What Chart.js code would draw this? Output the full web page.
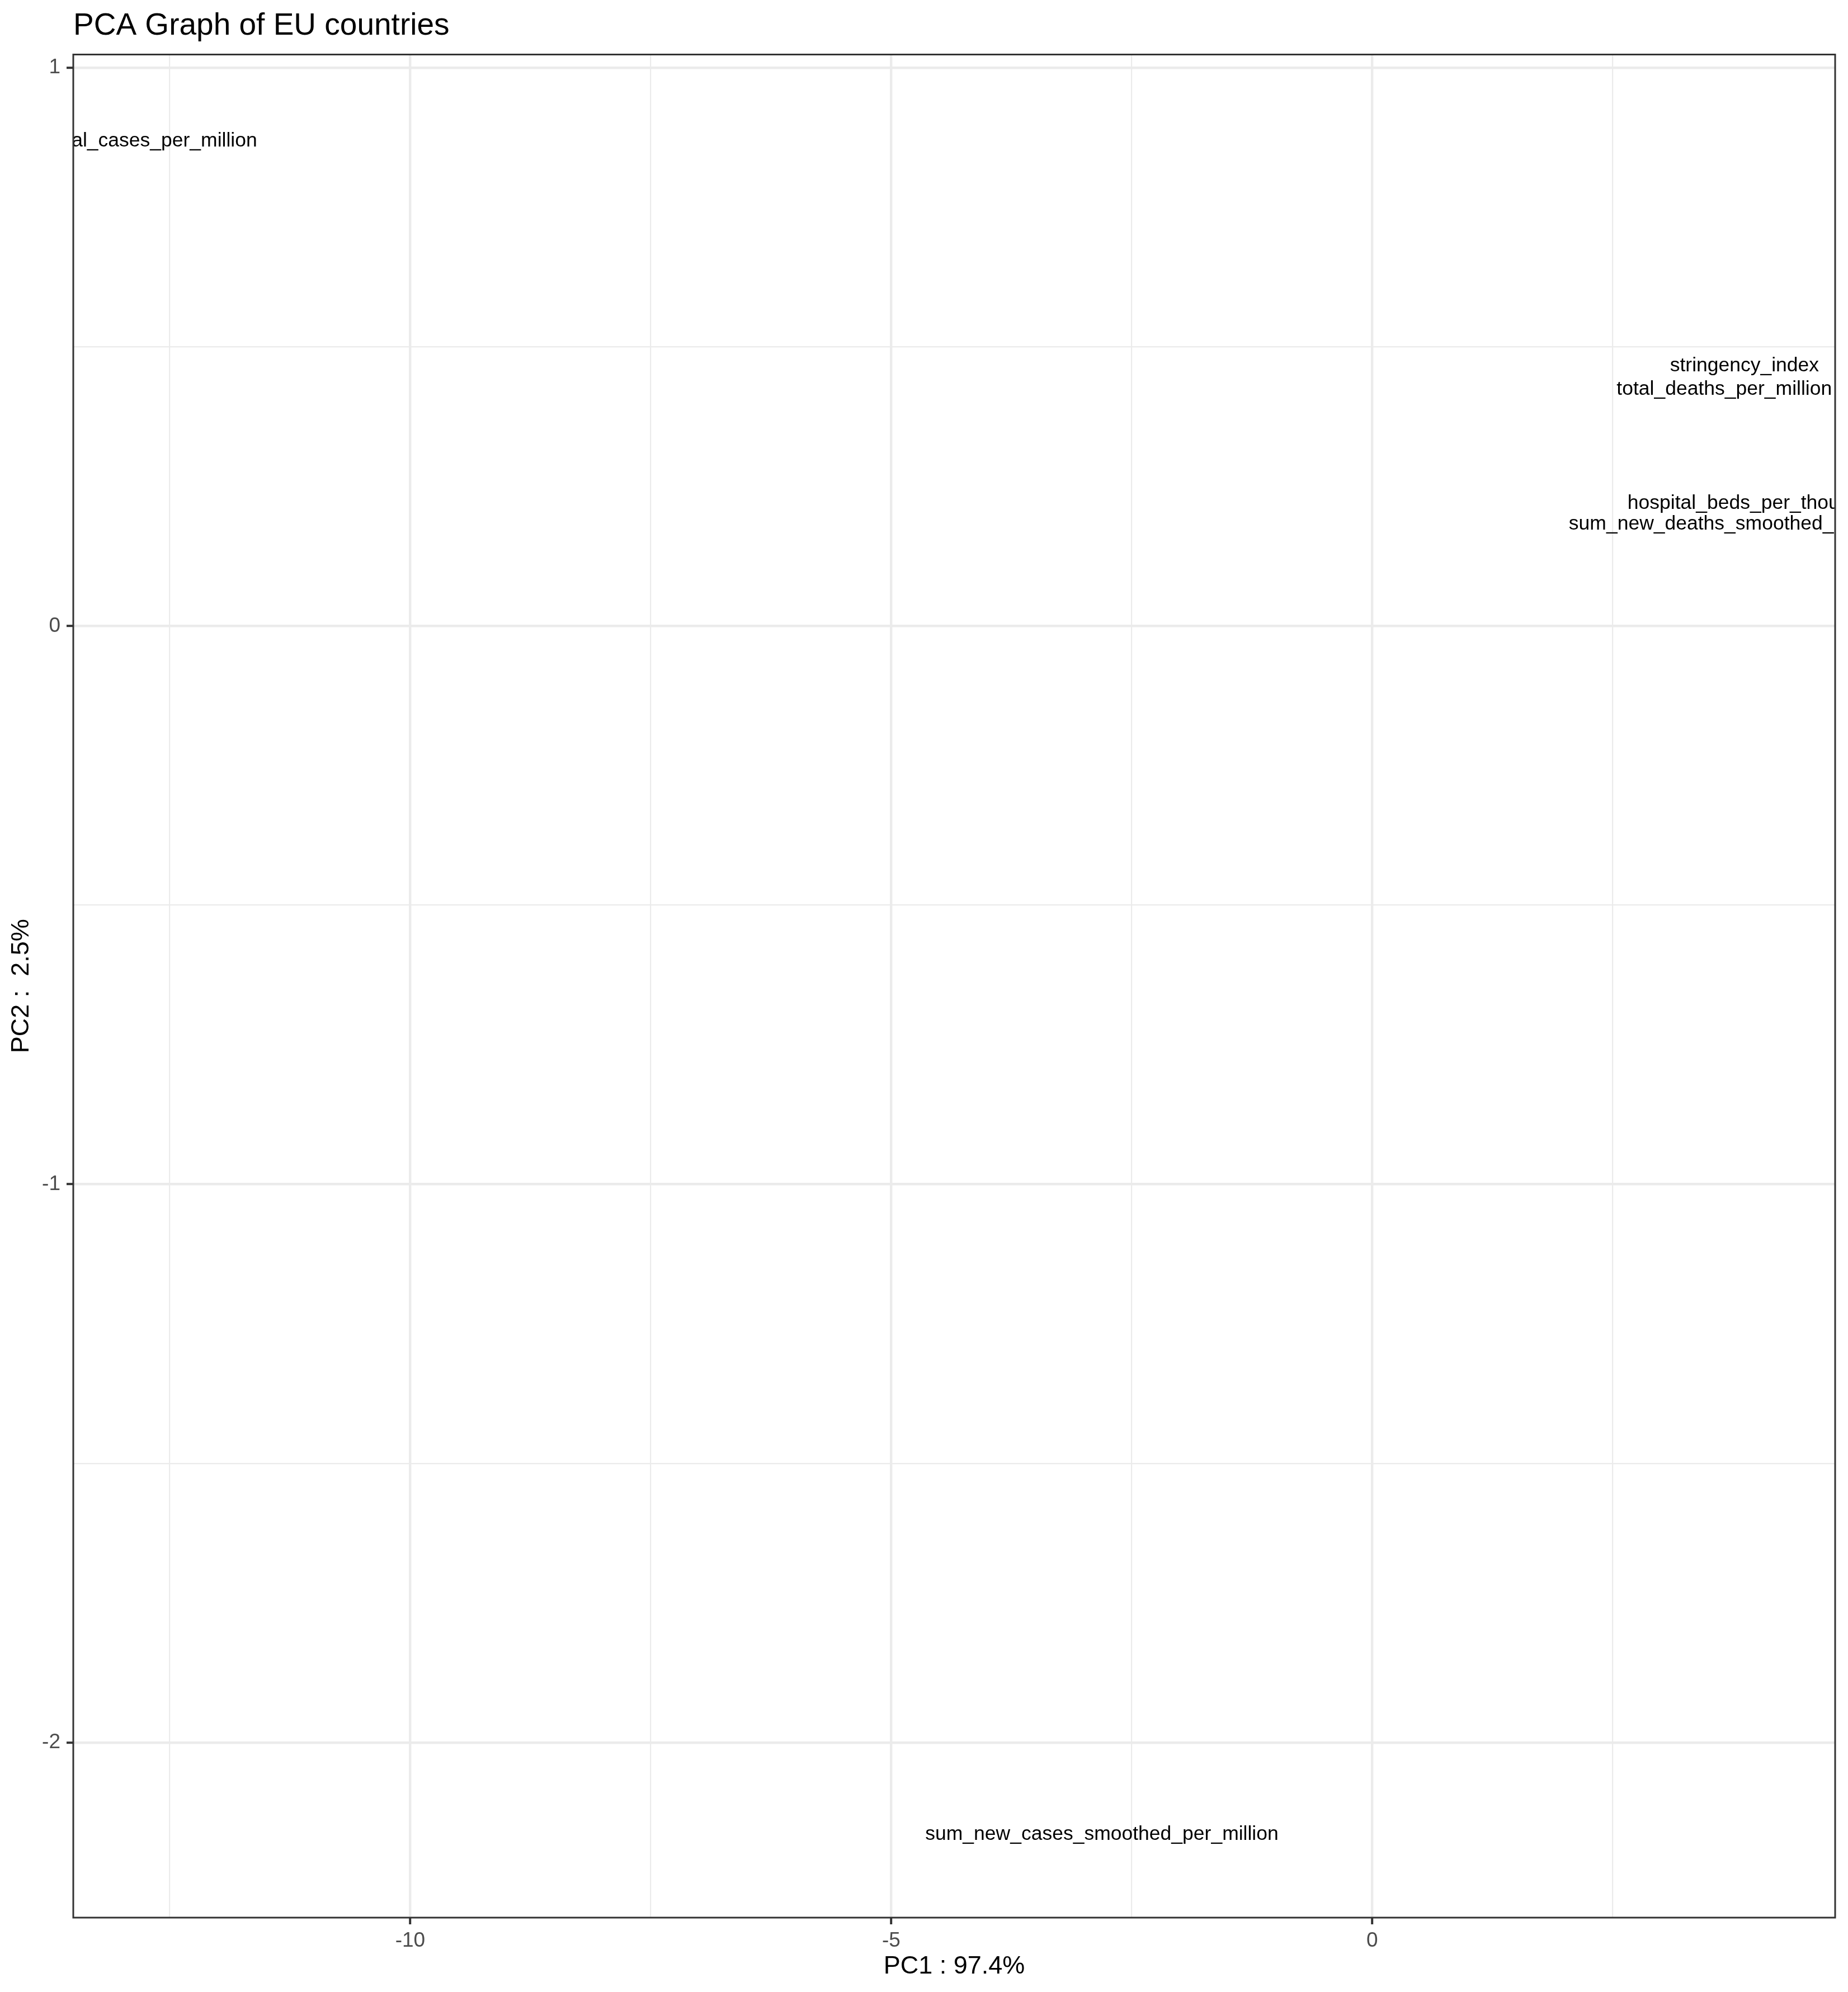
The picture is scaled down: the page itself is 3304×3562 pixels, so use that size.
<!DOCTYPE html>
<html><head><meta charset="utf-8">
<script src="https://cdn.jsdelivr.net/npm/chart.js@4/dist/chart.umd.min.js"></script>
<style>html,body{margin:0;padding:0;background:#fff}#wrap{width:3304px;height:3562px;position:relative}</style>
</head><body><div id="wrap"><canvas id="c"></canvas></div>
<script>
const variables = ["total_cases_per_million","stringency_index","total_deaths_per_million","hospital_beds_per_thousand","sum_new_deaths_smoothed_per_million","sum_new_cases_smoothed_per_million"];
const pc1 = [-12.67, 3.87, 3.66, 3.98, 3.92, -2.81];
const pc2 = [0.872, 0.469, 0.427, 0.223, 0.186, -2.162];
const xTicks = [-12.5, -10, -7.5, -5, -2.5, 0, 2.5];
const yTicks = [1, 0.5, 0, -0.5, -1, -1.5, -2];
const xMajor = [-10, -5, 0];
const yMajor = [1, 0, -1, -2];
const titleText = "PCA Graph of EU countries";
const xTitle = "PC1 : 97.4%";
const yTitle = "PC2 :  2.5%";

const FONT = '"Liberation Sans", Arial, Helvetica, sans-serif';
function expand(arr){ const mn=Math.min(...arr), mx=Math.max(...arr), r=mx-mn; return [mn-0.05*r, mx+0.05*r]; }
const [xMin,xMax] = expand(pc1);
const [yMin,yMax] = expand(pc2);

const labelPlugin = {
  id:'varLabels',
  afterDatasetsDraw(chart){
    const {ctx, chartArea:a, scales:{x,y}} = chart;
    ctx.save();
    ctx.beginPath(); ctx.rect(a.left,a.top,a.right-a.left,a.bottom-a.top); ctx.clip();
    ctx.font = '35.5px ' + FONT;
    ctx.fillStyle = '#000'; ctx.textAlign = 'center'; ctx.textBaseline = 'alphabetic';
    chart.data.datasets[0].data.forEach(p => {
      ctx.fillText(p.label, x.getPixelForValue(p.x), y.getPixelForValue(p.y) + 12.8);
    });
    ctx.restore();
  },
  afterDraw(chart){
    const {ctx, chartArea:a} = chart;
    ctx.save();
    ctx.strokeStyle = '#333333'; ctx.lineWidth = 3;
    ctx.strokeRect(a.left, a.top, a.right-a.left, a.bottom-a.top);
    ctx.restore();
  }
};

function gridOpts(major){
  return {
    color: '#EBEBEB',
    lineWidth: c => (c.tick && major.includes(c.tick.value)) ? 4.4 : 2.2,
    tickColor: c => (c.tick && major.includes(c.tick.value)) ? '#333333' : 'rgba(0,0,0,0)',
    tickWidth: 4,
    tickLength: 12,
    drawTicks: true
  };
}

new Chart(document.getElementById('c'), {
  type: 'scatter',
  data: { datasets: [{ data: variables.map((v,i)=>({x:pc1[i], y:pc2[i], label:v})), pointRadius:0, pointHoverRadius:0, showLine:false }] },
  options: {
    responsive: true, maintainAspectRatio: false, animation: false,
    layout: { padding: { left:0, right:23, top:0, bottom:0 } },
    plugins: {
      legend: { display:false }, tooltip: { enabled:false },
      title: { display:true, text:titleText, align:'start', fullSize:false, color:'#000',
               font:{ family:FONT, size:55, weight:'normal', lineHeight:1.2 }, padding:{ top:14, bottom:17.5 } }
    },
    scales: {
      x: {
        type:'linear', min:xMin, max:xMax,
        afterBuildTicks: s => { s.ticks = xTicks.map(v=>({value:v})); },
        afterFit: s => { s.height = 133; },
        grid: gridOpts(xMajor),
        border: { display:false },
        ticks: { autoSkip:false, maxRotation:0, padding:8, color:'#4D4D4D', font:{ family:FONT, size:37 },
                 callback: v => xMajor.includes(v) ? String(v) : '' },
        title: { display:true, text:xTitle, color:'#000', font:{ family:FONT, size:45, lineHeight:1.2 }, padding:{ top:0, bottom:18 } }
      },
      y: {
        type:'linear', min:yMin, max:yMax,
        afterBuildTicks: s => { s.ticks = yTicks.map(v=>({value:v})); },
        afterFit: s => { s.width = 131; },
        grid: gridOpts(yMajor),
        border: { display:false },
        ticks: { autoSkip:false, padding:11, color:'#4D4D4D', font:{ family:FONT, size:37 },
                 callback: v => yMajor.includes(v) ? String(v) : '' },
        title: { display:true, text:yTitle, color:'#000', font:{ family:FONT, size:45, lineHeight:1.2 }, padding:{ top:12, bottom:0 } }
      }
    }
  },
  plugins: [labelPlugin]
});
</script></body></html>
